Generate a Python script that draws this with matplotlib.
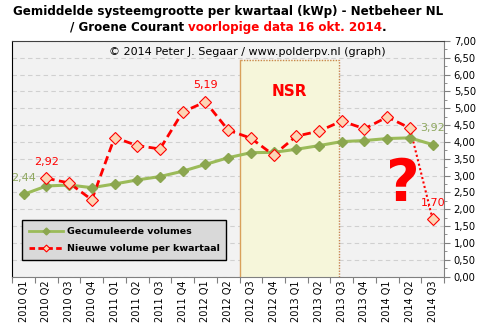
import numpy as np
import matplotlib
matplotlib.use('Agg')
import matplotlib.pyplot as plt
from matplotlib.patches import Rectangle
from matplotlib.ticker import MultipleLocator, FuncFormatter
from matplotlib.lines import Line2D

# quarters on the x axis
quarters = ['2010 Q1', '2010 Q2', '2010 Q3', '2010 Q4',
            '2011 Q1', '2011 Q2', '2011 Q3', '2011 Q4',
            '2012 Q1', '2012 Q2', '2012 Q3', '2012 Q4',
            '2013 Q1', '2013 Q2', '2013 Q3', '2013 Q4',
            '2014 Q1', '2014 Q2', '2014 Q3']

# cumulative average system size (kWp)
cumulative = [2.44, 2.69, 2.72, 2.64, 2.75, 2.87, 2.97, 3.13, 3.33, 3.53,
              3.68, 3.69, 3.78, 3.89, 4.01, 4.04, 4.10, 4.12, 3.92]

# new volume per quarter (no value for 2010 Q1)
new_volume = [np.nan, 2.92, 2.78, 2.28, 4.13, 3.89, 3.79, 4.89, 5.19, 4.35,
              4.11, 3.61, 4.17, 4.32, 4.62, 4.39, 4.74, 4.41, 1.70]

# NSR period (subsidy scheme), in category positions
nsr_start, nsr_end = 9.5, 13.9

green_line = '#9BBB59'
green_mark = '#8BA64F'
red = '#FF0000'
peach = '#FCD5B5'

fig = plt.figure(figsize=(4.86, 3.30), dpi=100)
ax = fig.add_axes([0.0253, 0.162, 0.8883, 0.714])
ax.set_facecolor('#F2F2F2')

x = np.arange(len(quarters))

# NSR box
ax.add_patch(Rectangle((nsr_start, 0), nsr_end - nsr_start, 6.42,
                       facecolor='#F6F6DA', edgecolor='none', zorder=1))
ax.plot([nsr_start, nsr_start], [0, 6.42], color='#D9A05B', lw=1, zorder=1.5)
ax.plot([nsr_end, nsr_end, nsr_start], [0, 6.42, 6.42], color='#C8864A',
        lw=1, ls=(0, (1, 1)), zorder=1.5)
ax.text((nsr_start + nsr_end) / 2, 5.5, 'NSR', color=red, fontsize=11,
        fontweight='bold', ha='center', va='center', zorder=2)

# cumulative line
ax.plot(x, cumulative, color=green_line, lw=2.2, zorder=3)
ax.plot(x, cumulative, ls='none', marker='D', ms=5.5, mfc=green_mark,
        mec=green_mark, zorder=4)

# new volume: dashed up to 2014 Q2, dotted to the provisional last point
ax.plot(x[:-1], new_volume[:-1], color=red, lw=2, ls=(0, (3, 1.6)), zorder=3)
ax.plot(x[-2:], new_volume[-2:], color=red, lw=1.5, ls=(0, (1, 1.2)), zorder=3)
ax.plot(x, new_volume, ls='none', marker='D', ms=6, mfc=peach,
        mec=red, mew=0.8, zorder=5)

# data labels
ax.text(0, 2.93, '2,44', color='#8FA860', fontsize=8, ha='center', va='center', zorder=6)
ax.text(1, 3.39, '2,92', color=red, fontsize=8, ha='center', va='center', zorder=6)
ax.text(8, 5.69, '5,19', color=red, fontsize=8, ha='center', va='center', zorder=6)
ax.text(18, 4.42, '3,92', color='#8FA860', fontsize=8, ha='center', va='center', zorder=6)
ax.text(18, 2.17, '1,70', color=red, fontsize=8, ha='center', va='center', zorder=6)

ax.text(16.7, 2.72, '?', color=red, fontsize=42, fontweight='bold',
        ha='center', va='center', zorder=6)

ax.text(0.545, 0.955, '\u00a9 2014 Peter J. Segaar / www.polderpv.nl (graph)',
        transform=ax.transAxes, fontsize=8, ha='center', va='center', zorder=6)

# axes
ax.set_xlim(-0.5, len(quarters) - 0.5)
ax.set_ylim(0, 7)
ax.set_xticks(np.arange(-0.5, len(quarters), 1), minor=False)
ax.set_xticklabels([])
ax.set_xticks(x, minor=True)
ax.set_xticklabels(quarters, minor=True, rotation=90, fontsize=7)
ax.tick_params(axis='x', which='major', length=4, color='#808080')
ax.tick_params(axis='x', which='minor', length=0, pad=3)

ax.yaxis.tick_right()
ax.yaxis.set_major_locator(MultipleLocator(0.5))
ax.yaxis.set_minor_locator(MultipleLocator(0.25))
ax.yaxis.set_major_formatter(FuncFormatter(lambda v, p: f'{v:.2f}'.replace('.', ',')))
ax.tick_params(axis='y', which='major', length=4, color='#808080', labelsize=7.2, pad=3)
ax.tick_params(axis='y', which='minor', length=2.5, color='#808080')

ax.grid(axis='y', which='major', color='#D0D0D0', ls=(0, (4, 3)), lw=0.8, zorder=0)
ax.set_axisbelow(True)

ax.spines['left'].set_color('black')
ax.spines['top'].set_color('#404040')
ax.spines['right'].set_color('#808080')
ax.spines['bottom'].set_color('#808080')

# legend
handles = [Line2D([], [], color=green_line, lw=2, marker='D', ms=3.5,
                  mfc=green_mark, mec=green_mark),
           Line2D([], [], color=red, lw=2, ls=(0, (2, 1.2)), marker='D', ms=3.5,
                  mfc=peach, mec=red, mew=0.8)]
leg = ax.legend(handles, ['Gecumuleerde volumes', 'Nieuwe volume per kwartaal'],
                loc='lower left', bbox_to_anchor=(0.012, 0.05),
                prop={'size': 6.8, 'weight': 'bold'}, fancybox=False,
                framealpha=1, handlelength=3.6, handletextpad=0.4,
                borderpad=0.7, labelspacing=0.9)
leg.get_frame().set_facecolor('#D9D9D9')
leg.get_frame().set_edgecolor('black')
leg.set_zorder(7)

# title, with the provisional part in red
fig.text(0.47, 0.965, 'Gemiddelde systeemgrootte per kwartaal (kWp) - Netbeheer NL',
         fontsize=8.6, fontweight='bold', ha='center', va='center')
t1 = fig.text(0.0, 0.918, '/ Groene Courant ', fontsize=8.6, fontweight='bold',
              ha='left', va='center')
t2 = fig.text(0.0, 0.918, 'voorlopige data 16 okt. 2014', fontsize=8.6,
              fontweight='bold', color=red, ha='left', va='center')
t3 = fig.text(0.0, 0.918, '.', fontsize=8.6, fontweight='bold', ha='left', va='center')

fig.canvas.draw()
r = fig.canvas.get_renderer()
w1 = t1.get_window_extent(r).width
w2 = t2.get_window_extent(r).width
w3 = t3.get_window_extent(r).width
W = fig.bbox.width
start = 0.47 * W - (w1 + w2 + w3) / 2
t1.set_x(start / W)
t2.set_x((start + w1) / W)
t3.set_x((start + w1 + w2) / W)

fig.savefig('out.png', dpi=100, facecolor='white')
